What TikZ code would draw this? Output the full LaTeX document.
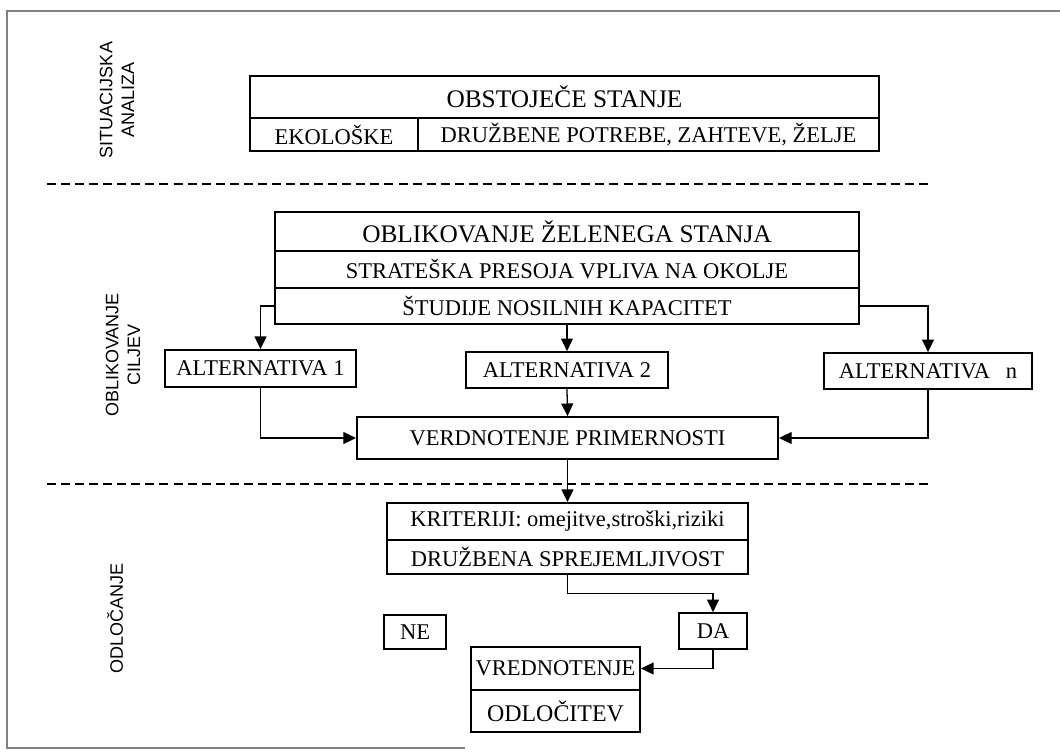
\documentclass[tikz,border=0pt]{standalone}
\usepackage{fontspec}
\setmainfont{Liberation Serif}
\setsansfont{Liberation Sans}
\usetikzlibrary{arrows.meta}

\begin{document}
\begin{tikzpicture}[x=0.025cm,y=-0.025cm,
  box/.style={draw,line width=1.2pt,inner sep=0pt,font=\fontsize{16}{19}\selectfont},
  head/.style={box,font=\fontsize{18}{21}\selectfont},
  sect/.style={rotate=90,align=center,inner sep=0pt,font=\sffamily\fontsize{12.8}{15.5}\selectfont},
  wire/.style={line width=0.9pt,-{Triangle[length=9pt,width=8.5pt]}},
  sep/.style={line width=1pt,dash pattern=on 6.4pt off 3.6pt},
  rim/.style={gray,line width=0.8pt}]
\useasboundingbox (0,0) rectangle (1060,751);
% frame of the scan
\draw[rim] (1060,11) -- (7,11) -- (7,748) -- (465,748);
% section labels
\node[sect] (lsit) at (117,100) {SITUACIJSKA\\ANALIZA};
\node[sect] (lcil) at (123,355) {OBLIKOVANJE\\CILJEV};
\node[sect] (lodl) at (115,618) {ODLOČANJE};
\coordinate (s1a) at (47,184); \coordinate (s1b) at (928,184);
\coordinate (s2a) at (47,484); \coordinate (s2b) at (928,484);
\draw[sep] (s1a) -- (s1b);
\draw[sep] (s2a) -- (s2b);
% situacijska analiza
\node[head,minimum width=15.73cm,minimum height=1.05cm] (obst) at (564.5,97) {OBSTOJEČE STANJE};
\node[box,minimum width=4.2cm,minimum height=0.83cm] (ekol) at (334,134.5) {EKOLOŠKE};
\node[box,minimum width=11.53cm,minimum height=0.83cm] (druz) at (648.5,134.5) {DRUŽBENE POTREBE, ZAHTEVE, ŽELJE};
% oblikovanje ciljev
\node[head,minimum width=14.6cm,minimum height=0.98cm] (oblik) at (567,231.5) {OBLIKOVANJE ŽELENEGA STANJA};
\node[box,minimum width=14.6cm,minimum height=0.93cm] (spvo) at (567,269.5) {STRATEŠKA PRESOJA VPLIVA NA OKOLJE};
\node[box,minimum width=14.6cm,minimum height=0.9cm] (stud) at (567,306) {ŠTUDIJE NOSILNIH KAPACITET};
\node[box,minimum width=4.78cm,minimum height=0.93cm] (alt1) at (260.5,368.5) {ALTERNATIVA 1};
\node[box,minimum width=5.05cm,minimum height=0.9cm] (alt2) at (567,370) {ALTERNATIVA 2};
\node[box,minimum width=5.2cm,minimum height=0.9cm] (altn) at (928,371) {ALTERNATIVA\hspace{0.7em}n};
\node[box,minimum width=10.53cm,minimum height=1.05cm] (verd) at (567.5,438) {VERDNOTENJE PRIMERNOSTI};
\draw[wire] (stud.west) -| (alt1.north);
\draw[wire] (stud.south) -- (alt2.north);
\draw[wire] (stud.east) -| (altn.north);
\draw[wire] (alt1.south) |- (verd.west);
\draw[wire] (alt2.south) -- (verd.north);
\draw[wire] (altn.south) |- (verd.east);
% odlocanje
\node[box,minimum width=9.03cm,minimum height=0.93cm] (krit) at (567.5,521.5) {KRITERIJI: omejitve,stroški,riziki};
\node[box,minimum width=9.03cm,minimum height=0.85cm] (drsp) at (567.5,557) {DRUŽBENA SPREJEMLJIVOST};
\node[box,minimum width=1.55cm,minimum height=0.85cm] (ne) at (415,632) {NE};
\node[box,minimum width=1.7cm,minimum height=0.9cm] (da) at (713,631) {DA};
\node[box,minimum width=4.23cm,minimum height=1.08cm] (vred) at (555.5,668.5) {VREDNOTENJE};
\node[box,minimum width=4.23cm,minimum height=1.05cm,font=\fontsize{17}{20}\selectfont] (odlo) at (555.5,711) {ODLOČITEV};
\draw[wire] (verd.south) -- (krit.north);
\draw[wire] (drsp.south) -- ++(0,19) -| (da.north);
\draw[wire] (da.south) |- (vred.east);
\end{tikzpicture}
\end{document}
